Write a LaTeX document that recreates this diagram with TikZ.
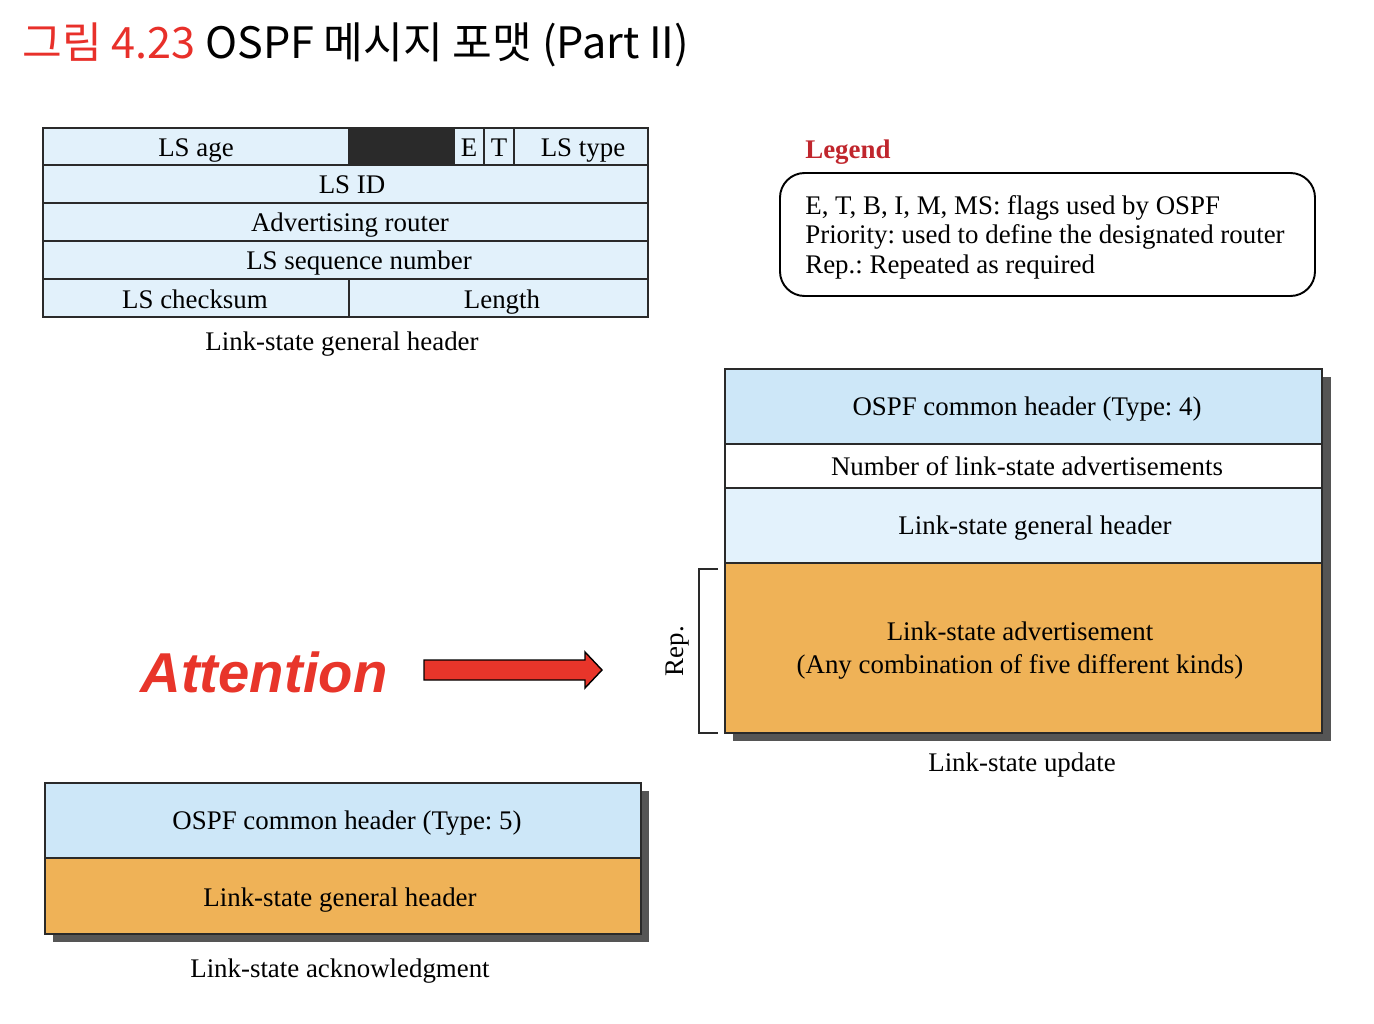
\documentclass[tikz,border=0pt]{standalone}
\usepackage{fontspec}
\setmainfont{Liberation Serif}
\newfontfamily\krfont{Noto Sans CJK KR}
\newfontfamily\attfont{Liberation Sans}
\definecolor{tblblue}{HTML}{E2F1FB}
\definecolor{topblue}{HTML}{CDE7F8}
\definecolor{litblue}{HTML}{E3F2FC}
\definecolor{orng}{HTML}{EFB257}
\definecolor{titlered}{HTML}{E8302A}
\definecolor{attred}{HTML}{E8352A}
\definecolor{legred}{HTML}{C0262D}
\definecolor{shadowgray}{HTML}{555555}
\definecolor{edge}{HTML}{2A2A2A}
\newcommand\txtsize{\fontsize{15.3pt}{16.8pt}\selectfont\frenchspacing}
\begin{document}
\begin{tikzpicture}[x=0.02cm,y=-0.02cm,
  every node/.style={font=\txtsize, inner sep=0pt},
  cell/.style={draw=edge, line width=1pt, fill=tblblue},
  fieldbox/.style={draw=edge, line width=1.1pt},
  lbl/.style={text=black, anchor=base}]
\useasboundingbox (0,0) rectangle (1374,1024);

% Title
\node[anchor=west, font=\krfont\fontsize{24.6pt}{28pt}\selectfont] (title) at (22,45)
  {\textcolor{titlered}{그림 4.23} OSPF 메시지 포맷 (Part II)};

% Link-state general header table
\draw[cell] (43,128) rectangle (349,165);
\fill[edge] (349,128) rectangle (454,165);
\draw[edge, line width=1pt] (349,128) rectangle (454,165);
\draw[cell] (454,128) rectangle (484,165);
\draw[cell] (484,128) rectangle (514,165);
\draw[cell] (514,128) rectangle (648,165);
\draw[cell] (43,165) rectangle (648,203);
\draw[cell] (43,203) rectangle (648,241);
\draw[cell] (43,241) rectangle (648,279);
\draw[cell] (43,279) rectangle (349,317);
\draw[cell] (349,279) rectangle (648,317);
\node[lbl] (lsage) at (196,156.5) {LS age};
\node[lbl] (eflag) at (469,156.5) {E};
\node[lbl] (tflag) at (499,156.5) {T};
\node[lbl] (lstype) at (583,156.5) {LS type};
\node[lbl] (lsid) at (352,194) {LS ID};
\node[lbl] (advr) at (350,232) {Advertising router};
\node[lbl] (lsseq) at (359,270) {LS sequence number};
\node[lbl] (lschk) at (195,308) {LS checksum};
\node[lbl] (len) at (502,308) {Length};
\node[lbl] (hdrcap) at (342,350.5) {Link-state general header};

% Legend
\node[anchor=base west, font=\txtsize\bfseries, text=legred] (legtitle) at (805,159) {Legend};
\draw[line width=1.1pt, rounded corners=14pt] (780,173) rectangle (1315,296);
\node[anchor=west, align=left] (legtext) at (805,237)
  {E, T, B, I, M, MS: flags used by OSPF\\Priority: used to define the designated router\\Rep.: Repeated as required};

% Link-state update
\fill[shadowgray] (733,377) rectangle (1331,741);
\draw[fieldbox, fill=topblue] (725,369) rectangle (1322,444);
\draw[fieldbox, fill=white] (725,444) rectangle (1322,488);
\draw[fieldbox, fill=litblue] (725,488) rectangle (1322,563);
\draw[fieldbox, fill=orng] (725,563) rectangle (1322,733);
\node[lbl] (upd1) at (1027,415.5) {OSPF common header (Type: 4)};
\node[lbl] (upd2) at (1027,475.5) {Number of link-state advertisements};
\node[lbl] (upd3) at (1035,534.5) {Link-state general header};
\node[align=center] (upd4) at (1020,651) {Link-state advertisement\\[2pt](Any combination of five different kinds)};
\node[lbl] (updcap) at (1022,771.5) {Link-state update};
\coordinate (repA) at (718,569);
\coordinate (repB) at (718,733);
\draw[line width=0.9pt, edge] (repA) -- (699,569) -- (699,733) -- (repB);
\node[rotate=90] (rep) at (678,651) {Rep.};

% Attention
\node[font=\attfont\bfseries\itshape\fontsize{32pt}{36pt}\selectfont, text=attred] (att) at (264,672) {Attention};
\draw[fill=attred, draw=black, line width=0.8pt, line join=miter]
  (424,660) -- (585,660) -- (585,652) -- (602,670) -- (585,688) -- (585,680) -- (424,680) -- cycle;

% Link-state acknowledgment
\fill[shadowgray] (53,791) rectangle (649,942);
\draw[fieldbox, fill=topblue] (45,783) rectangle (641,858);
\draw[fieldbox, fill=orng] (45,858) rectangle (641,934);
\node[lbl] (ack1) at (347,829.5) {OSPF common header (Type: 5)};
\node[lbl] (ack2) at (340,906.5) {Link-state general header};
\node[lbl] (ackcap) at (340,977.5) {Link-state acknowledgment};
\end{tikzpicture}
\end{document}
